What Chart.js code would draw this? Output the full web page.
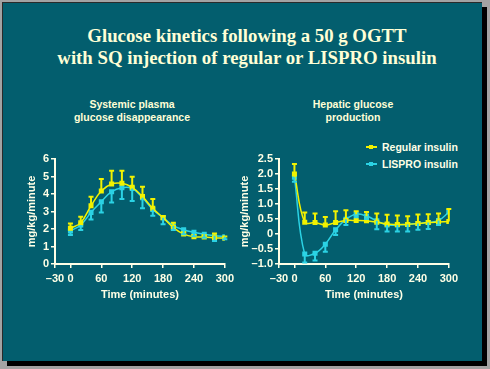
<!DOCTYPE html>
<html>
<head>
<meta charset="utf-8">
<script src="https://cdn.jsdelivr.net/npm/chart.js@4.4.1/dist/chart.umd.min.js"></script>
<style>
    body {
        margin: 0;
        width: 490px;
        height: 369px;
        overflow: hidden;
        position: relative;
        background: #a3a3a3;
        font-family: Arial, "Liberation Sans", sans-serif;
    }
    .slide {
        position: absolute;
        left: 2px;
        top: 2px;
        width: 479px;
        height: 358px;
        background: #035e6e;
        border-left: 1px solid #2a2a2a;
        border-top: 1px solid #2a2a2a;
        box-shadow: 5px 5px 0 #000;
    }
    .title {
        position: absolute;
        left: 0;
        top: 25px;
        width: 494px;
        text-align: center;
        font: bold 18.8px "Liberation Serif", "Times New Roman", serif;
        line-height: 22px;
        color: #ffffd6;
    }
    .subtitle {
        position: absolute;
        top: 98px;
        width: 160px;
        text-align: center;
        font: bold 10.5px Arial, "Liberation Sans", sans-serif;
        line-height: 13px;
        color: #ffffd6;
    }
    canvas {
        position: absolute;
    }
    .legend {
        position: absolute;
        left: 366px;
        top: 140px;
        font: bold 10.5px Arial, "Liberation Sans", sans-serif;
        color: #ffffe6;
    }
    .legend div {
        position: relative;
        height: 17px;
        line-height: 14px;
        padding-left: 16px;
    }
    .legend .swatch {
        position: absolute;
        left: 0;
        top: 6px;
        width: 11px;
        height: 2px;
    }
    .legend .swatch::after {
        content: "";
        position: absolute;
        left: 3px;
        top: -1px;
        width: 4px;
        height: 4px;
        background: inherit;
    }
</style>
</head>
<body>
<div class="slide"></div>
<div class="title">Glucose kinetics following a 50 g OGTT<br>with SQ injection of regular or LISPRO insulin</div>
<div class="subtitle" style="left:52px">Systemic plasma<br>glucose disappearance</div>
<div class="subtitle" style="left:273px">Hepatic glucose<br>production</div>
<div class="legend">
    <div><span class="swatch" style="background:#f2f200"></span>Regular insulin</div>
    <div><span class="swatch" style="background:#2bd2e4"></span>LISPRO insulin</div>
</div>
<canvas id="systemicChart" width="227" height="152" style="left:11px;top:150px"></canvas>
<canvas id="hepaticChart" width="227" height="152" style="left:235px;top:150px"></canvas>
<script>
// Time points (minutes)
const times = [0, 20, 40, 60, 80, 100, 120, 140, 160, 180, 200, 220, 240, 260, 280, 300];

// Systemic plasma glucose disappearance (mg/kg/minute)
const systemicRegular = [2.04, 2.36, 3.33, 4.17, 4.57, 4.61, 4.38, 3.85, 3.18, 2.65, 2.08, 1.71, 1.56, 1.54, 1.50, 1.47];
const systemicRegularErr = [0.28, 0.34, 0.52, 0.69, 0.76, 0.72, 0.61, 0.57, 0.53, 0.10, 0.28, 0.10, 0.10, 0.10, 0.25, 0.10];
const systemicLispro = [1.89, 2.23, 2.95, 3.56, 4.13, 4.36, 4.32, 3.79, 3.12, 2.65, 2.19, 1.96, 1.81, 1.70, 1.62, 1.56];
const systemicLisproErr = [0.23, 0.29, 0.40, 0.61, 0.61, 0.65, 0.72, 0.61, 0.36, 0.38, 0.25, 0.26, 0.23, 0.20, 0.30, 0.15];

// Hepatic glucose production (mg/kg/minute)
const hepaticRegular = [2.00, 0.39, 0.38, 0.30, 0.38, 0.45, 0.45, 0.44, 0.39, 0.33, 0.32, 0.32, 0.35, 0.38, 0.40, 0.42];
const hepaticRegularErr = [0.33, 0.33, 0.30, 0.27, 0.38, 0.34, 0.31, 0.29, 0.29, 0.31, 0.30, 0.27, 0.30, 0.28, 0.28, 0.41];
const hepaticLispro = [1.89, -0.67, -0.64, -0.34, 0.14, 0.49, 0.66, 0.60, 0.44, 0.30, 0.30, 0.32, 0.35, 0.38, 0.45, 0.73];
const hepaticLisproErr = [0.15, 0.28, 0.24, 0.25, 0.17, 0.19, 0.10, 0.10, 0.28, 0.22, 0.22, 0.24, 0.21, 0.21, 0.15, 0];

// Tick labels
const xTicks = [-30, 0, 60, 120, 180, 240, 300];
const systemicYTicks = [0, 1, 2, 3, 4, 5, 6];
const hepaticYTicks = [-1.0, -0.5, 0, 0.5, 1.0, 1.5, 2.0, 2.5];

const seriesNames = ['Regular insulin', 'LISPRO insulin'];
const yellow = '#f2f200';
const cyan = '#2bd2e4';
const axisColor = '#ffffe6';
const tickFont = { family: 'Arial, "Liberation Sans", sans-serif', size: 11, weight: 'bold' };

function formatTick(value, decimals) {
    if (value === 0) return '0';
    const text = Math.abs(value).toFixed(decimals);
    return value < 0 ? '\u2013' + text : text;
}

// Error bars: regular insulin drawn upward, LISPRO downward
const errorBarPlugin = {
    id: 'errorBars',
    afterDatasetsDraw(chart) {
        const ctx = chart.ctx;
        const yScale = chart.scales.y;
        ctx.save();
        chart.data.datasets.forEach((dataset, i) => {
            const meta = chart.getDatasetMeta(i);
            const dir = dataset.errorDirection;
            ctx.strokeStyle = dataset.borderColor;
            ctx.lineWidth = 2;
            meta.data.forEach((point, j) => {
                const err = dataset.errors[j];
                if (!err) return;
                const yEnd = yScale.getPixelForValue(dataset.data[j].y + dir * err);
                ctx.beginPath();
                ctx.moveTo(point.x, point.y);
                ctx.lineTo(point.x, yEnd);
                ctx.moveTo(point.x - 2.5, yEnd);
                ctx.lineTo(point.x + 2.5, yEnd);
                ctx.stroke();
            });
        });
        ctx.restore();
    }
};

function makeDataset(label, values, errors, color, direction) {
    return {
        label: label,
        data: values.map((v, i) => ({ x: times[i], y: v })),
        errors: errors,
        errorDirection: direction,
        borderColor: color,
        backgroundColor: color,
        borderWidth: 1.5,
        tension: 0.4,
        pointStyle: 'rect',
        pointRadius: 2.5,
        pointHoverRadius: 2.5
    };
}

function createChart(canvasId, regular, regularErr, lispro, lisproErr, yTicks, decimals, yTitleGap) {
    const ctx = document.getElementById(canvasId).getContext('2d');
    return new Chart(ctx, {
        type: 'line',
        data: {
            datasets: [
                makeDataset(seriesNames[0], regular, regularErr, yellow, 1),
                makeDataset(seriesNames[1], lispro, lisproErr, cyan, -1)
            ]
        },
        options: {
            responsive: false,
            animation: false,
            devicePixelRatio: 1,
            layout: {
                padding: { top: 9, right: 11, left: 0, bottom: 0 }
            },
            plugins: {
                legend: { display: false },
                tooltip: { enabled: false }
            },
            scales: {
                x: {
                    type: 'linear',
                    min: xTicks[0],
                    max: xTicks[xTicks.length - 1],
                    afterBuildTicks: scale => {
                        scale.ticks = xTicks.map(v => ({ value: v }));
                    },
                    afterFit: scale => {
                        scale.height = 38;
                    },
                    grid: {
                        drawOnChartArea: false,
                        drawTicks: true,
                        tickLength: 4,
                        color: axisColor,
                        lineWidth: 1.5
                    },
                    border: { display: true, color: axisColor, width: 2 },
                    ticks: {
                        color: axisColor,
                        font: tickFont,
                        padding: 4,
                        maxRotation: 0,
                        autoSkip: false,
                        callback: v => formatTick(v, 0)
                    },
                    title: {
                        display: true,
                        text: 'Time (minutes)',
                        color: axisColor,
                        font: tickFont,
                        padding: { top: 0, bottom: 0 }
                    }
                },
                y: {
                    min: yTicks[0],
                    max: yTicks[yTicks.length - 1],
                    afterBuildTicks: scale => {
                        scale.ticks = yTicks.map(v => ({ value: v }));
                    },
                    afterFit: scale => {
                        scale.width = 44;
                    },
                    grid: {
                        drawOnChartArea: false,
                        drawTicks: true,
                        tickLength: 4,
                        color: axisColor,
                        lineWidth: 1.5
                    },
                    border: { display: true, color: axisColor, width: 2 },
                    ticks: {
                        color: axisColor,
                        font: tickFont,
                        padding: 2,
                        autoSkip: false,
                        callback: v => formatTick(v, decimals)
                    },
                    title: {
                        display: true,
                        text: 'mg/kg/minute',
                        color: axisColor,
                        font: tickFont,
                        padding: { top: yTitleGap, bottom: 0 }
                    }
                }
            }
        },
        plugins: [errorBarPlugin]
    });
}

createChart('systemicChart', systemicRegular, systemicRegularErr, systemicLispro, systemicLisproErr, systemicYTicks, 0, 14);
createChart('hepaticChart', hepaticRegular, hepaticRegularErr, hepaticLispro, hepaticLisproErr, hepaticYTicks, 1, 3);
</script>
</body>
</html>
